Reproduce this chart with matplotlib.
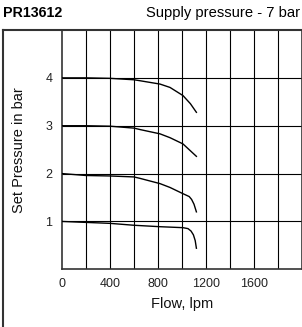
import matplotlib
matplotlib.use("Agg")
import matplotlib.pyplot as plt
from matplotlib.lines import Line2D

plt.rcParams['font.family'] = ['Liberation Sans', 'DejaVu Sans']

# Data
flow_4 = [0, 200, 400, 600, 650, 817, 900, 1008, 1070, 1120]
p_4 = [4.0, 4.0, 3.99, 3.96, 3.94, 3.87, 3.80, 3.63, 3.46, 3.28]
flow_3 = [0, 200, 400, 600, 650, 817, 900, 1008, 1120]
p_3 = [3.0, 3.0, 2.99, 2.95, 2.92, 2.83, 2.75, 2.62, 2.36]
flow_2 = [0, 200, 400, 600, 650, 817, 900, 1008, 1060, 1080, 1100, 1120]
p_2 = [2.0, 1.96, 1.95, 1.93, 1.90, 1.79, 1.71, 1.58, 1.52, 1.46, 1.36, 1.20]
flow_1 = [0, 200, 400, 600, 817, 1008, 1050, 1075, 1095, 1110, 1120]
p_1 = [1.0, 0.98, 0.96, 0.92, 0.89, 0.87, 0.85, 0.80, 0.72, 0.60, 0.44]

x_ticks = [0, 400, 800, 1200, 1600]
y_ticks = [1, 2, 3, 4]

W, H = 302, 327
fig = plt.figure(figsize=(W / 100, H / 100), dpi=100)
ax = fig.add_axes([62 / W, 1 - 269.3 / H, 240 / W, 239.3 / H])

for f, p in [(flow_4, p_4), (flow_3, p_3), (flow_2, p_2), (flow_1, p_1)]:
    ax.plot(f, p, color='black', lw=1.0, zorder=3)

ax.set_xlim(0, 2000)
ax.set_ylim(0, 5)
for xv in range(200, 2000, 200):
    ax.axvline(xv, color='black', lw=0.8, zorder=1)
for yv in y_ticks:
    ax.axhline(yv, color='black', lw=0.8, zorder=1)

ax.set_xticks(x_ticks)
ax.set_xticklabels([str(v) for v in x_ticks])
ax.set_yticks(y_ticks)
ax.set_yticklabels([str(v) for v in y_ticks])
ax.tick_params(length=0, labelsize=9, colors='#222222')
ax.tick_params(axis='x', pad=6)
ax.tick_params(axis='y', pad=7)
for s in ax.spines.values():
    s.set_linewidth(1.2)
    s.set_color('#333333')

ax.set_xlabel('Flow, lpm', fontsize=10.5, labelpad=5, color='#111111')
ax.set_ylabel('Set Pressure in bar', fontsize=10.5, color='#111111')
ax.yaxis.set_label_coords((26 - 62) / 240, 0.5)

# frame lines
fig.add_artist(Line2D([2.5 / W, 2.5 / W], [0, 1 - 30 / H], color='#333333', lw=1.5))
fig.add_artist(Line2D([2.5 / W, 1], [1 - 30 / H, 1 - 30 / H], color='#333333', lw=1.5))

fig.text(3 / W, 1 - 13 / H, 'PR13612', fontsize=10.3, fontweight='bold', va='center', ha='left')
fig.text(300 / W, 1 - 13 / H, 'Supply pressure - 7 bar', fontsize=10.6, va='center', ha='right')

fig.savefig('out.png', dpi=100)
